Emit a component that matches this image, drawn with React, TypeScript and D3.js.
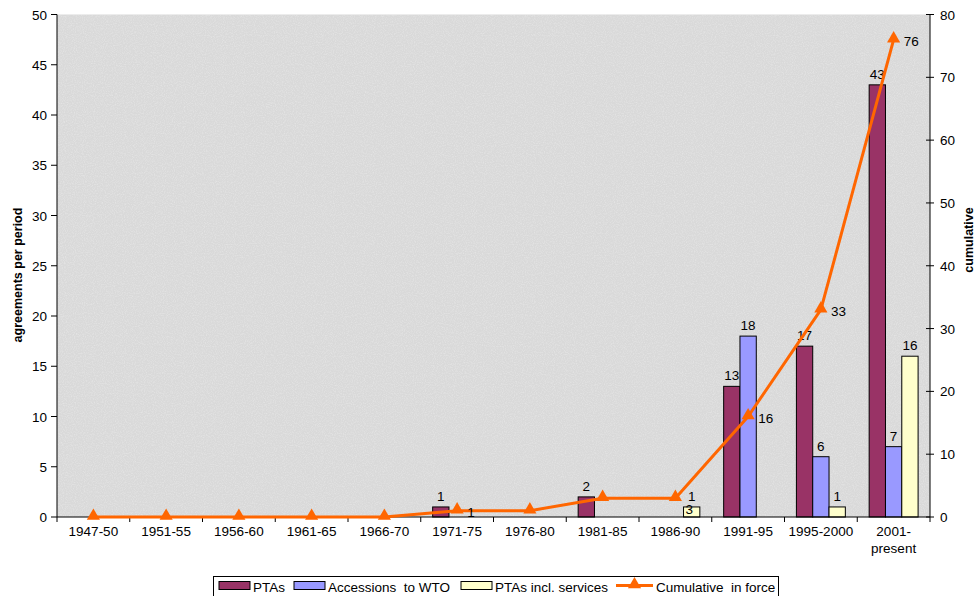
import React from "react";
import * as d3 from "d3";

const categories = ["1947-50", "1951-55", "1956-60", "1961-65", "1966-70", "1971-75", "1976-80", "1981-85", "1986-90", "1991-95", "1995-2000", "2001-\npresent"];
const ptas = [0, 0, 0, 0, 0, 1, 0, 2, 0, 13, 17, 43];
const accessions = [0, 0, 0, 0, 0, 0, 0, 0, 0, 18, 6, 7];
const ptasServices = [0, 0, 0, 0, 0, 0, 0, 0, 1, 0, 1, 16];
const cumulative = [0, 0, 0, 0, 0, 1, 1, 3, 3, 16, 33, 76];
const cumulativeLabelled = [false, false, false, false, false, true, false, false, true, true, true, true];
const leftTicks = [0, 5, 10, 15, 20, 25, 30, 35, 40, 45, 50];
const rightTicks = [0, 10, 20, 30, 40, 50, 60, 70, 80];

const seriesNames = ["PTAs", "Accessions  to WTO", "PTAs incl. services"];
const seriesColors = ["#993366", "#9999FF", "#FFFFCC"];
const lineColor = "#FF6600";
const font = "'Liberation Sans', Arial, sans-serif";

export default function App() {
  const W = 976, H = 596;
  const left = 57, right = 930, top = 14.5, bottom = 517;
  const x = d3.scaleBand<number>().domain(d3.range(categories.length)).range([left, right]);
  const yL = d3.scaleLinear().domain([0, 50]).range([bottom, top]);
  const yR = d3.scaleLinear().domain([0, 80]).range([bottom, top]);
  const bw = x.bandwidth() / 4.46;
  const series = [ptas, accessions, ptasServices];
  const cx = (i: number) => (x(i) as number) + x.bandwidth() / 2;
  const line = d3.line<number>().x((_, i) => cx(i)).y((d) => yR(d));
  const tri = d3.symbol().type(d3.symbolTriangle).size(75)() as string;
  const fs = 13.5;

  const barLabels: { x: number; y: number }[] = [];
  series.forEach((s, si) =>
    s.forEach((v, i) => {
      if (v !== 0) barLabels.push({ x: cx(i) - 1.5 * bw + si * bw + bw / 2, y: yL(v) - 6 });
    })
  );
  const cumLabelY = (i: number, v: number) => {
    let y = yR(v) + 6;
    const lx = cx(i) + 10;
    for (const b of barLabels) {
      if (Math.abs(b.x - (lx + 4)) < 10 && Math.abs(b.y - y) < 13) y = b.y + 13;
    }
    return y;
  };

  return (
    <svg width={W} height={H} style={{ position: "absolute", left: 0, top: 0, fontFamily: font }}>
      <defs>
        <filter id="noise" x="0" y="0" width="100%" height="100%">
          <feTurbulence type="fractalNoise" baseFrequency="0.9" numOctaves="2" seed="3" result="t" />
          <feColorMatrix in="t" type="matrix" values="0 0 0 0 0.85  0 0 0 0 0.85  0 0 0 0 0.85  0 0 0 -2.2 1.3" result="c" />
          <feComposite in="c" in2="SourceGraphic" operator="in" />
        </filter>
      </defs>
      <rect x={0} y={0} width={W} height={H} fill="#fff" />
      <rect x={left} y={top} width={right - left} height={bottom - top} fill="#d9d9d9" />
      <rect x={left} y={top} width={right - left} height={bottom - top} fill="#d9d9d9" filter="url(#noise)" opacity={0.5} />

      {/* bars */}
      {series.map((s, si) =>
        s.map((v, i) => {
          if (v === 0) return null;
          const gx = cx(i) - 1.5 * bw + si * bw;
          return (
            <g key={`${si}-${i}`}>
              <rect x={gx} y={yL(v)} width={bw} height={bottom - yL(v)} fill={seriesColors[si]} stroke="#000" strokeWidth={1} />
              <text x={gx + bw / 2} y={yL(v) - 6} textAnchor="middle" fontSize={fs} fill="#000">{v}</text>
            </g>
          );
        })
      )}

      {/* left axis */}
      <line x1={left} x2={left} y1={top} y2={bottom} stroke="#000" />
      {leftTicks.map((t) => (
        <g key={t}>
          <line x1={left - 6} x2={left} y1={yL(t)} y2={yL(t)} stroke="#000" />
          <text x={left - 10} y={yL(t) + 5} textAnchor="end" fontSize={fs}>{t}</text>
        </g>
      ))}
      <text transform={`translate(22,275) rotate(-90)`} textAnchor="middle" fontSize={12.5} fontWeight="bold">agreements per period</text>

      {/* right axis */}
      <line x1={right} x2={right} y1={top} y2={bottom} stroke="#000" />
      {rightTicks.map((t) => (
        <g key={t}>
          <line x1={right - 4} x2={right + 4} y1={yR(t)} y2={yR(t)} stroke="#000" />
          <text x={right + 10} y={yR(t) + 5} textAnchor="start" fontSize={fs}>{t}</text>
        </g>
      ))}
      <text transform={`translate(973,240) rotate(-90)`} textAnchor="middle" fontSize={12.5} fontWeight="bold">cumulative</text>

      {/* bottom axis */}
      <line x1={left} x2={right} y1={bottom} y2={bottom} stroke="#000" />
      {d3.range(categories.length + 1).map((i) => {
        const tx = i < categories.length ? (x(i) as number) : right;
        return <line key={i} x1={tx} x2={tx} y1={bottom} y2={bottom + 5} stroke="#000" />;
      })}
      {categories.map((c, i) => (
        <text key={c} x={cx(i)} y={536} textAnchor="middle" fontSize={fs}>
          {c.split("\n").map((p, k) => (
            <tspan key={k} x={cx(i)} dy={k === 0 ? 0 : 17}>{p}</tspan>
          ))}
        </text>
      ))}

      {/* cumulative line */}
      <path d={line(cumulative) as string} fill="none" stroke={lineColor} strokeWidth={3} strokeLinejoin="round" />
      {cumulative.map((v, i) => (
        <path key={i} d={tri} transform={`translate(${cx(i)},${yR(v) - 1})`} fill={lineColor} />
      ))}
      {cumulative.map((v, i) =>
        cumulativeLabelled[i] ? (
          <text key={i} x={cx(i) + 10} y={cumLabelY(i, v)} fontSize={fs}>{v}</text>
        ) : null
      )}

      {/* legend */}
      <rect x={213.5} y={576.5} width={565} height={22} fill="#fff" stroke="#000" />
      {seriesNames.map((n, si) => {
        const lx = [219, 294, 461][si];
        return (
          <g key={n}>
            <rect x={lx} y={581.5} width={31} height={8} fill={seriesColors[si]} stroke="#000" />
            <text x={lx + 34} y={592} fontSize={fs} style={{ whiteSpace: "pre" }}>{n}</text>
          </g>
        );
      })}
      <line x1={616} x2={653} y1={585.5} y2={585.5} stroke={lineColor} strokeWidth={3} />
      <path d={tri} transform="translate(634.5,584.5)" fill={lineColor} />
      <text x={656} y={592} fontSize={fs} style={{ whiteSpace: "pre" }}>Cumulative  in force</text>
    </svg>
  );
}
